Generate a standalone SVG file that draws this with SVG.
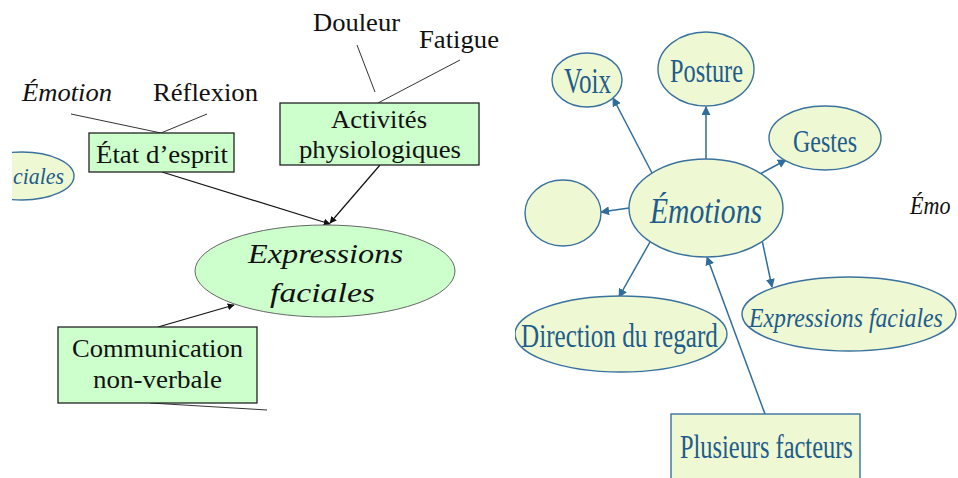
<svg xmlns="http://www.w3.org/2000/svg" width="958" height="478" viewBox="0 0 958 478">
<style>
.tx{fill:#111;font-family:'Liberation Serif','Times New Roman',serif}
.bt{fill:#1e5c8c;font-family:'Liberation Serif','Times New Roman',serif}
.lbox{fill:#ccffcc;stroke:#222;stroke-width:1.3}
.lell{fill:#ccffcc;stroke:#666;stroke-width:1}
.bell{fill:#eef8d3;stroke:#3a729e;stroke-width:1.4}
.ln{stroke:#333;stroke-width:1;fill:none}
.ar{stroke:#111;stroke-width:1.2;fill:none}
.br{stroke:#2f6d9c;stroke-width:1.5;fill:none}
</style>
<defs>
<marker id="ka" viewBox="0 0 10 10" refX="9" refY="5" markerWidth="7" markerHeight="7" orient="auto" markerUnits="userSpaceOnUse"><path d="M0,0 L10,5 L0,10 z" fill="#111"/></marker>
<marker id="ba" viewBox="0 0 10 10" refX="9" refY="5" markerWidth="9" markerHeight="9" orient="auto" markerUnits="userSpaceOnUse"><path d="M0,0 L10,5 L0,10 z" fill="#2f6d9c"/></marker>
<clipPath id="cl"><rect x="12" y="140" width="100" height="70"/></clipPath>
<clipPath id="cr"><rect x="515" y="280" width="230" height="110"/></clipPath>
</defs>

<g id="connectors">
<line class="ln" x1="71" y1="114" x2="161" y2="133"/>
<line class="ln" x1="207" y1="114" x2="161" y2="133"/>
<line class="ln" x1="357" y1="45" x2="375" y2="92"/>
<line class="ln" x1="460" y1="60" x2="378" y2="103"/>
<line class="ar" x1="162" y1="172" x2="330" y2="224" marker-end="url(#ka)"/>
<line class="ar" x1="380" y1="165" x2="330" y2="223" marker-end="url(#ka)"/>
<line class="ar" x1="158" y1="327" x2="234" y2="305" marker-end="url(#ka)"/>
<line class="ln" x1="150" y1="403" x2="267" y2="410"/>
<line class="br" x1="652" y1="173" x2="613" y2="98" marker-end="url(#ba)"/>
<line class="br" x1="706" y1="160" x2="706" y2="107" marker-end="url(#ba)"/>
<line class="br" x1="760" y1="174" x2="786" y2="160" marker-end="url(#ba)"/>
<line class="br" x1="629" y1="208" x2="601" y2="212" marker-end="url(#ba)"/>
<line class="br" x1="650" y1="242" x2="619" y2="297" marker-end="url(#ba)"/>
<line class="br" x1="762" y1="240" x2="772" y2="287" marker-end="url(#ba)"/>
<line class="br" x1="765" y1="414" x2="707" y2="257" marker-end="url(#ba)"/>
</g>

<g id="lbl-emotion"><text class="tx" x="22" y="101" font-size="25" font-style="italic" textLength="90" lengthAdjust="spacingAndGlyphs">Émotion</text></g>
<g id="lbl-reflexion"><text class="tx" x="153" y="101" font-size="25" textLength="105" lengthAdjust="spacingAndGlyphs">Réflexion</text></g>
<g id="lbl-douleur"><text class="tx" x="313" y="31" font-size="25" textLength="87" lengthAdjust="spacingAndGlyphs">Douleur</text></g>
<g id="lbl-fatigue"><text class="tx" x="419" y="48" font-size="25" textLength="80" lengthAdjust="spacingAndGlyphs">Fatigue</text></g>

<g id="frag-faciales" clip-path="url(#cl)">
<ellipse class="bell" cx="22" cy="176" rx="52" ry="24"/>
<text class="bt" x="13" y="184" font-size="24" font-style="italic" textLength="51" lengthAdjust="spacingAndGlyphs">ciales</text>
</g>

<g id="etat">
<rect class="lbox" x="89" y="133" width="145" height="39"/>
<text class="tx" x="96" y="163" font-size="25" textLength="132" lengthAdjust="spacingAndGlyphs">État d’esprit</text>
</g>

<g id="activites">
<rect class="lbox" x="280" y="103" width="199" height="62"/>
<text class="tx" x="331" y="128" font-size="25" textLength="96" lengthAdjust="spacingAndGlyphs">Activités</text>
<text class="tx" x="299" y="158" font-size="25" textLength="162" lengthAdjust="spacingAndGlyphs">physiologiques</text>
</g>

<g id="expr-left">
<ellipse class="lell" cx="325" cy="271" rx="130" ry="46"/>
<text class="tx" x="248" y="263" font-size="28" font-style="italic" textLength="155" lengthAdjust="spacingAndGlyphs">Expressions</text>
<text class="tx" x="270" y="302" font-size="28" font-style="italic" textLength="105" lengthAdjust="spacingAndGlyphs">faciales</text>
</g>

<g id="communication">
<rect class="lbox" x="58" y="327" width="199" height="76"/>
<text class="tx" x="72" y="357" font-size="25" textLength="171" lengthAdjust="spacingAndGlyphs">Communication</text>
<text class="tx" x="93" y="388" font-size="25" textLength="129" lengthAdjust="spacingAndGlyphs">non-verbale</text>
</g>

<g id="voix">
<ellipse class="bell" cx="587" cy="80" rx="35" ry="27"/>
<text class="bt" x="564" y="93" font-size="36" textLength="47" lengthAdjust="spacingAndGlyphs">Voix</text>
</g>

<g id="posture">
<ellipse class="bell" cx="706" cy="69" rx="48" ry="37"/>
<text class="bt" x="670" y="82" font-size="34" textLength="73" lengthAdjust="spacingAndGlyphs">Posture</text>
</g>

<g id="gestes">
<ellipse class="bell" cx="825" cy="138" rx="56" ry="32"/>
<text class="bt" x="793" y="152" font-size="32" textLength="64" lengthAdjust="spacingAndGlyphs">Gestes</text>
</g>

<g id="emotions">
<ellipse class="bell" cx="706" cy="208" rx="77" ry="49"/>
<text class="bt" x="650" y="223" font-size="36" font-style="italic" textLength="112" lengthAdjust="spacingAndGlyphs">Émotions</text>
</g>

<g id="blank">
<ellipse class="bell" cx="563" cy="213" rx="38" ry="33"/>
</g>

<g id="direction" clip-path="url(#cr)">
<ellipse class="bell" cx="621" cy="334" rx="106" ry="38"/>
<text class="bt" transform="translate(521,347) scale(0.74,1)" x="0" y="0" font-size="34" textLength="266" lengthAdjust="spacingAndGlyphs">Direction du regard</text>
</g>

<g id="expr-right">
<ellipse class="bell" cx="849" cy="314" rx="107" ry="37"/>
<text class="bt" transform="translate(749,327) scale(0.85,1)" x="0" y="0" font-size="28" font-style="italic" textLength="228" lengthAdjust="spacingAndGlyphs">Expressions faciales</text>
</g>

<g id="plusieurs">
<rect class="bell" x="671" y="414" width="189" height="70"/>
<text class="bt" transform="translate(680,458) scale(0.72,1)" x="0" y="0" font-size="34" textLength="240" lengthAdjust="spacingAndGlyphs">Plusieurs facteurs</text>
</g>

<g id="frag-emo">
<text class="tx" transform="translate(910,214) scale(0.85,1)" x="0" y="0" font-size="26" font-style="italic">Émo</text>
</g>
</svg>
